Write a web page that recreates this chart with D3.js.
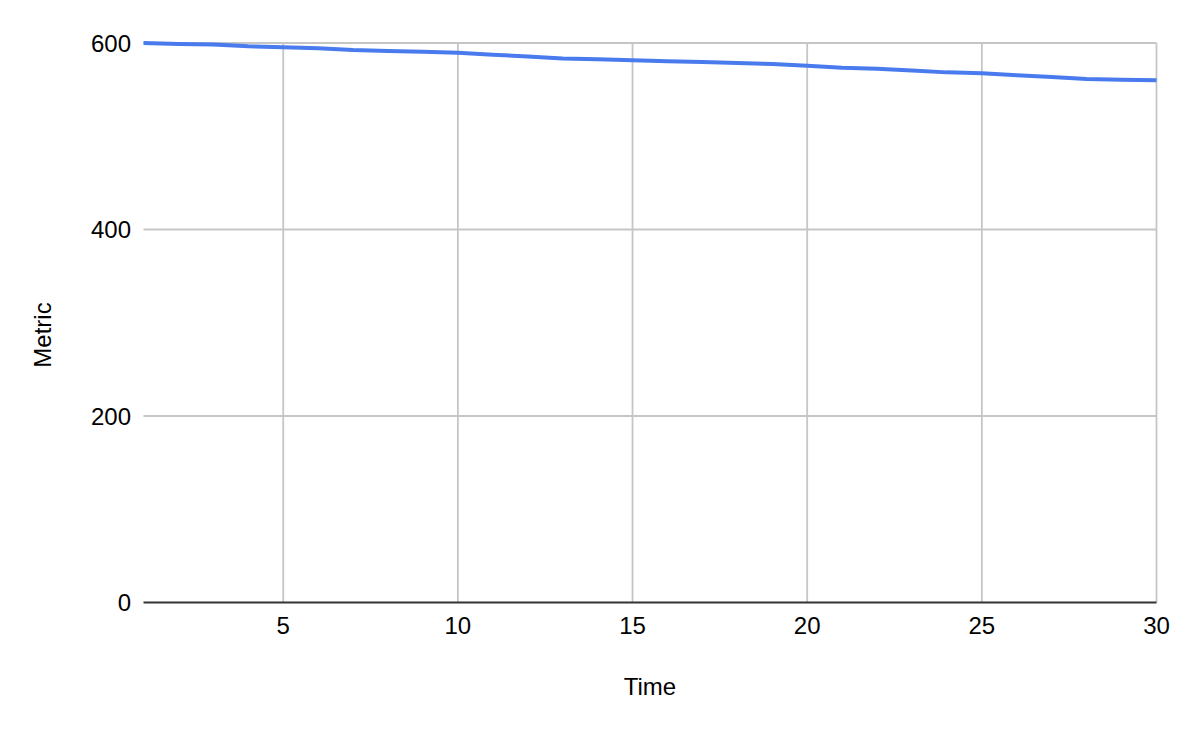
<!DOCTYPE html>
<html>
<head>
<meta charset="utf-8">
<script src="https://cdn.jsdelivr.net/npm/d3@7"></script>
<style>
  body { margin: 0; background: #fff; }
  text { font-family: "Liberation Sans", Arial, sans-serif; fill: #000; }
</style>
</head>
<body>
<div id="container"></div>
<script>
// data
let times = d3.range(1, 31);
let metric = [600, 599, 598.5, 596.5, 595.5, 594.5, 592.5, 591.5, 590.5, 589.5,
              587.5, 585.5, 583.5, 582.5, 581.5, 580.5, 579.5, 578.5, 577.5, 575.5,
              573.5, 572.5, 570.5, 568.5, 567.5, 565.5, 563.5, 561.5, 560.5, 560];
let xTicks = [5, 10, 15, 20, 25, 30];
let yTicks = [0, 200, 400, 600];

let w = 1190;
let h = 732;
let plotLeft = 143.5, plotRight = 1156.5, plotTop = 43, plotBottom = 602.5;

let viz = d3.select("#container").append("svg")
    .attr("width", w)
    .attr("height", h)
    .style("background-color", "white");

let x = d3.scaleLinear().domain([1, 30]).range([plotLeft, plotRight]);
let y = d3.scaleLinear().domain([0, 600]).range([plotBottom, plotTop]);

// vertical grid
viz.selectAll(".vgrid").data(xTicks).enter()
  .append("line")
    .attr("x1", d => x(d)).attr("x2", d => x(d))
    .attr("y1", plotTop).attr("y2", plotBottom)
    .attr("stroke", "#c6c6c6")
    .attr("stroke-width", 1.8);

// horizontal grid
viz.selectAll(".hgrid").data(yTicks.filter(d => d > 0)).enter()
  .append("line")
    .attr("x1", plotLeft).attr("x2", plotRight)
    .attr("y1", d => y(d)).attr("y2", d => y(d))
    .attr("stroke", "#c6c6c6")
    .attr("stroke-width", 1.8);

// x axis baseline
viz.append("line")
  .attr("x1", plotLeft).attr("x2", plotRight)
  .attr("y1", y(0)).attr("y2", y(0))
  .attr("stroke", "#333")
  .attr("stroke-width", 2);

// tick labels
viz.selectAll(".xlab").data(xTicks).enter()
  .append("text")
    .attr("x", d => x(d))
    .attr("y", 634)
    .attr("text-anchor", "middle")
    .style("font-size", "24px")
    .text(d => d);

viz.selectAll(".ylab").data(yTicks).enter()
  .append("text")
    .attr("x", 131)
    .attr("y", d => y(d) + 8.5)
    .attr("text-anchor", "end")
    .style("font-size", "24px")
    .text(d => d);

// axis titles
viz.append("text")
  .attr("x", 650).attr("y", 694.5)
  .attr("text-anchor", "middle")
  .style("font-size", "24px")
  .text("Time");

viz.append("text")
  .attr("transform", "translate(50.5,335) rotate(-90)")
  .attr("text-anchor", "middle")
  .style("font-size", "24px")
  .text("Metric");

// the series
let line = d3.line()
  .x((d, i) => x(times[i]))
  .y(d => y(d));

viz.append("path")
  .datum(metric)
  .attr("d", line)
  .attr("fill", "none")
  .attr("stroke", "#4a7bee")
  .attr("stroke-width", 4)
  .attr("stroke-linejoin", "round");
</script>
</body>
</html>
